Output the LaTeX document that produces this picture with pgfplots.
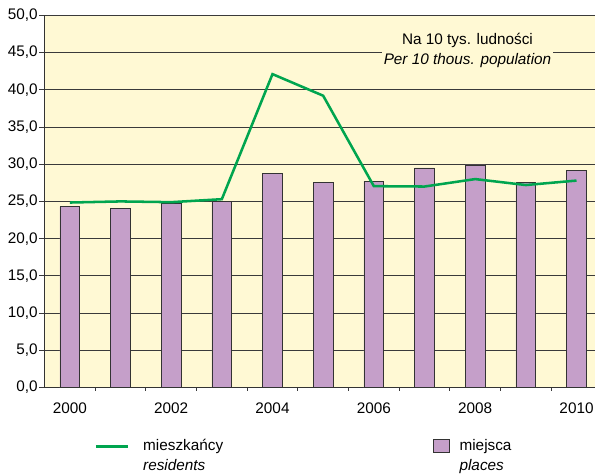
\documentclass[border=0pt]{standalone}
\usepackage{pgfplots}
\pgfplotsset{compat=1.18}
\usepackage{fontspec}
\setmainfont{Liberation Sans}
\definecolor{bgyellow}{HTML}{FFF9D4}
\definecolor{barfill}{HTML}{C59FC9}
\definecolor{linegreen}{HTML}{00A54F}
\definecolor{gridc}{HTML}{3A3A3A}
\pgfplotsset{
  lineleg/.style={legend image code/.code={\draw[##1] (0pt,0.35em) -- (24pt,0.35em);}},
  boxleg/.style={legend image code/.code={\draw[##1] (0pt,-1pt) rectangle (12pt,9pt);}},
}
\begin{document}
\begin{tikzpicture}
\begin{axis}[
  at={(0pt,0pt)}, anchor=south west,
  scale only axis,
  width=413.6pt, height=279.5pt,
  xmin=1999.5, xmax=2010.37,
  ymin=0, ymax=50,
  ytick={0,5,...,50},
  xtick={2000,2002,...,2010},
  minor xtick={2000.5,2001.5,...,2009.5},
  xticklabels={2000,2002,2004,2006,2008,2010},
  tick pos=left,
  tick align=outside,
  major tick length=4pt,
  minor tick length=2.5pt,
  x tick style={draw=none},
  minor x tick style={draw=gridc, line width=0.6pt},
  y tick style={draw=gridc, line width=0.7pt},
  axis x line*=bottom, axis y line*=left,
  axis line style={-, draw=black!80, line width=1.1pt},
  ymajorgrids,
  grid style={draw=gridc, line width=0.6pt},
  axis background/.style={fill=bgyellow},
  /pgf/number format/assume math mode=true,
  /pgf/number format/fixed,
  /pgf/number format/fixed zerofill,
  /pgf/number format/precision=1,
  /pgf/number format/use comma,
  ticklabel style={font=\fontsize{11.5}{13}\selectfont},
  yticklabel style={inner sep=1pt},
  xticklabel style={inner sep=0pt, yshift=-7.5pt},
  legend columns=4,
  legend style={at={(0.0907,-0.132)}, anchor=north west, draw=none, fill=none,
    font=\fontsize{11.5}{15}\selectfont, inner sep=0pt,
    nodes={inner sep=0pt, anchor=base west},
    /tikz/column sep=0pt},
  legend cell align=left,
]
\addplot[ybar, bar width=0.39, bar shift=0pt, fill=barfill, draw=black!80, line width=0.6pt, forget plot]
  coordinates {(2000,24.3) (2001,24.0) (2002,24.7) (2003,25.0) (2004,28.7) (2005,27.5) (2006,27.7) (2007,29.5) (2008,29.9) (2009,27.6) (2010,29.2)};
\addplot[linegreen, line width=1.9pt, mark=none, forget plot]
  coordinates {(2000,24.85) (2001,25.0) (2002,24.9) (2003,25.3) (2004,42.1) (2005,39.2) (2006,27.05) (2007,27.0) (2008,28.0) (2009,27.2) (2010,27.8)};
\addlegendimage{linegreen, line width=1.9pt, lineleg}
\addlegendentry{\makebox[228pt][l]{\hspace*{10.5pt}\begin{tabular}[t]{@{}l@{}}mieszkańcy\\\textit{residents}\end{tabular}}}
\addlegendimage{fill=barfill, draw=black!80, line width=0.6pt, boxleg}
\addlegendentry{\makebox[60pt][l]{\hspace*{7.5pt}\begin{tabular}[t]{@{}l@{}}miejsca\\\textit{places}\end{tabular}}}
\node[fill=bgyellow, inner sep=1.5pt, align=center, font=\fontsize{11.5}{15.5}\selectfont]
  at (rel axis cs:0.768,0.906) {Na 10 tys. ludności\\\textit{Per 10 thous. population}};
\end{axis}
\path[use as bounding box] (-33.4pt,-65.25pt) rectangle (413.6pt,291pt);
\end{tikzpicture}
\end{document}
